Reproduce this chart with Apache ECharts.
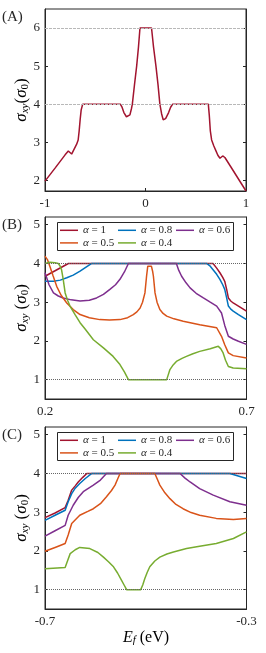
<!DOCTYPE html>
<html><head><meta charset="utf-8">
<script src="https://cdn.jsdelivr.net/npm/echarts@6/dist/echarts.min.js"></script>
<style>html,body{margin:0;padding:0;background:#fff}#c{width:266px;height:653px}</style>
</head><body><div id="c"></div>
<script>
// ---------- DATA ----------
// Panel A
const aX = [-1.0,-0.9,-0.8,-0.768,-0.75,-0.735,-0.71,-0.685,-0.67,-0.66,-0.65,-0.64,-0.625,-0.25,-0.235,-0.215,-0.19,-0.171,-0.155,-0.14,-0.131,-0.11,-0.088,-0.07,-0.055,0.06,0.08,0.104,0.125,0.143,0.16,0.176,0.2,0.23,0.25,0.27,0.625,0.635,0.645,0.658,0.68,0.7,0.72,0.741,0.755,0.768,0.79,0.85,0.9,0.95,1.0];
const aY = [1.98,2.32,2.67,2.77,2.74,2.69,2.82,2.95,3.06,3.3,3.6,3.85,4.0,4.0,3.93,3.78,3.67,3.65,3.72,3.88,4.0,4.5,5.0,5.5,6.0,6.0,5.5,5.0,4.5,4.0,3.75,3.59,3.62,3.78,3.92,4.0,4.0,3.7,3.3,3.06,2.9,2.78,2.66,2.58,2.62,2.64,2.6,2.35,2.14,1.93,1.72];
const aTicks = [2,3,4,5,6];
const aXTicks = [-1,0,1];

const legendNames = ['α = 1','α = 0.8','α = 0.6','α = 0.5','α = 0.4'];

// Panel B
const bX1 = [0.2,0.258,0.617,0.626,0.634,0.641,0.646,0.651,0.655,0.661,0.667,0.68,0.7];
const bY1 = [3.67,4.0,4.0,3.88,3.76,3.64,3.54,3.32,3.11,3.03,2.98,2.9,2.77];
const bX08 = [0.2,0.221,0.238,0.254,0.27,0.287,0.3,0.316,0.601,0.61,0.617,0.626,0.634,0.641,0.646,0.651,0.655,0.661,0.667,0.68,0.7];
const bY08 = [3.54,3.54,3.57,3.63,3.7,3.8,3.89,4.0,4.0,3.93,3.84,3.72,3.59,3.45,3.33,3.1,2.9,2.82,2.77,2.68,2.55];
const bX06 = [0.2,0.21,0.221,0.233,0.245,0.265,0.287,0.31,0.328,0.345,0.361,0.375,0.386,0.397,0.407,0.526,0.532,0.539,0.55,0.56,0.575,0.593,0.61,0.626,0.638,0.646,0.655,0.667,0.68,0.7];
const bY06 = [3.76,3.45,3.24,3.16,3.11,3.06,3.03,3.05,3.11,3.2,3.33,3.45,3.59,3.78,4.0,4.0,3.82,3.67,3.5,3.37,3.23,3.11,3.0,2.9,2.72,2.4,2.12,2.05,1.99,1.91];
const bX05 = [0.2,0.206,0.212,0.22,0.229,0.24,0.254,0.27,0.287,0.31,0.336,0.36,0.386,0.405,0.419,0.428,0.436,0.442,0.448,0.452,0.455,0.464,0.467,0.469,0.473,0.478,0.485,0.493,0.502,0.52,0.543,0.584,0.626,0.638,0.646,0.655,0.667,0.7];
const bY05 = [4.19,4.1,3.93,3.68,3.41,3.18,2.98,2.81,2.68,2.6,2.55,2.54,2.55,2.6,2.68,2.75,2.85,3.0,3.24,3.67,3.93,3.93,3.8,3.67,3.24,3.0,2.81,2.71,2.64,2.57,2.51,2.42,2.34,2.12,1.9,1.69,1.62,1.56];
const bX04 = [0.2,0.212,0.225,0.233,0.237,0.241,0.245,0.25,0.256,0.262,0.275,0.287,0.3,0.32,0.345,0.369,0.386,0.397,0.407,0.502,0.506,0.51,0.518,0.526,0.54,0.551,0.567,0.584,0.61,0.63,0.636,0.642,0.648,0.655,0.667,0.7];
const bY04 = [4.0,4.03,4.02,4.0,3.94,3.84,3.6,3.24,3.05,2.9,2.67,2.47,2.3,2.03,1.82,1.6,1.39,1.2,1.0,1.0,1.13,1.26,1.38,1.47,1.55,1.6,1.67,1.73,1.8,1.86,1.8,1.69,1.5,1.34,1.3,1.28];
const bXTicks = [0.2,0.7];

// Panel C
const cX1 = [-0.7,-0.68,-0.66,-0.654,-0.647,-0.64,-0.634,-0.625,-0.617,-0.3];
const cY1 = [2.86,2.98,3.12,3.31,3.57,3.68,3.78,3.9,4.0,4.0];
const cX08 = [-0.7,-0.68,-0.66,-0.654,-0.647,-0.64,-0.631,-0.62,-0.607,-0.333,-0.3];
const cY08 = [2.79,2.92,3.05,3.27,3.48,3.62,3.74,3.87,4.0,4.0,3.87];
const cX06 = [-0.7,-0.68,-0.66,-0.654,-0.644,-0.634,-0.624,-0.604,-0.59,-0.578,-0.432,-0.422,-0.412,-0.393,-0.366,-0.333,-0.3];
const cY06 = [2.38,2.52,2.66,2.92,3.18,3.38,3.53,3.70,3.83,4.0,4.0,3.88,3.78,3.61,3.44,3.27,3.18];
const cX05 = [-0.7,-0.68,-0.66,-0.654,-0.647,-0.631,-0.615,-0.604,-0.59,-0.578,-0.568,-0.561,-0.556,-0.551,-0.482,-0.477,-0.472,-0.462,-0.452,-0.44,-0.426,-0.41,-0.393,-0.36,-0.326,-0.3];
const cY05 = [1.99,2.09,2.19,2.41,2.71,2.92,3.02,3.09,3.22,3.40,3.56,3.70,3.85,4.0,4.0,3.85,3.70,3.50,3.35,3.2,3.09,2.99,2.92,2.84,2.81,2.84];
const cX04 = [-0.7,-0.66,-0.655,-0.65,-0.64,-0.631,-0.611,-0.595,-0.584,-0.574,-0.564,-0.556,-0.548,-0.543,-0.538,-0.51,-0.506,-0.502,-0.497,-0.492,-0.482,-0.472,-0.458,-0.445,-0.419,-0.393,-0.36,-0.326,-0.3];
const cY04 = [1.54,1.57,1.75,1.93,2.03,2.09,2.06,1.96,1.84,1.72,1.59,1.43,1.24,1.12,1.0,1.0,1.12,1.28,1.45,1.59,1.74,1.84,1.92,1.97,2.06,2.12,2.19,2.32,2.49];
const cXTicks = [-0.7,-0.3];
const bcTicks = [1,2,3,4,5];

// ---------- STYLE ----------
const FONT = 'Liberation Serif';
const INK = '#262626';
const COLORS = ['#A2142F','#0072BD','#7E2F8E','#D95319','#77AC30'];
const zip = (xs, ys) => xs.map((x, i) => [x, ys[i]]);

const grids = [
  {left: 45, top: 9, width: 201, height: 182},
  {left: 45, top: 217, width: 201.5, height: 182},
  {left: 45, top: 427, width: 201.5, height: 182}
];
const xRanges = [[-1,1,aXTicks],[0.2,0.7,bXTicks],[-0.7,-0.3,cXTicks]];
const yRanges = [[1.72,6.5,aTicks],[0.5,5.2,bcTicks],[0.5,5.2,bcTicks]];

const xAxes = [], yAxes = [];
xRanges.forEach((r, i) => {
  xAxes.push({
    type: 'value', gridIndex: i, min: r[0], max: r[1],
    axisLine: {show: true, onZero: false, lineStyle: {color: INK, width: 1}},
    axisTick: {show: true, inside: true, length: 3, customValues: r[2], lineStyle: {color: INK}},
    axisLabel: {show: true, customValues: r[2], margin: 6, fontFamily: FONT, fontSize: 13, color: INK,
      formatter: v => (Math.round(v*10)/10).toString()},
    splitLine: {show: false}
  });
});
yRanges.forEach((r, i) => {
  yAxes.push({
    type: 'value', gridIndex: i, min: r[0], max: r[1], position: 'left',
    axisLine: {show: true, onZero: false, lineStyle: {color: INK, width: 1}},
    axisTick: {show: true, inside: true, length: 3, customValues: r[2], lineStyle: {color: INK}},
    axisLabel: {show: true, customValues: r[2], margin: 5, fontFamily: FONT, fontSize: 13, color: INK},
    splitLine: {show: false}
  });
  yAxes.push({
    type: 'value', gridIndex: i, min: r[0], max: r[1], position: 'right',
    axisLine: {show: true, onZero: false, lineStyle: {color: INK, width: 1}},
    axisTick: {show: true, inside: true, length: 3, customValues: r[2], lineStyle: {color: INK}},
    axisLabel: {show: false},
    splitLine: {show: false}
  });
});

function line(name, xs, ys, gi, color, mark) {
  const s = {
    type: 'line', name: name, xAxisIndex: gi, yAxisIndex: gi*2,
    data: zip(xs, ys), symbol: 'none', showSymbol: false, smooth: false,
    lineStyle: {color: color, width: 1.5}, itemStyle: {color: color},
    animation: false, z: 2
  };
  if (mark) s.markLine = mark;
  return s;
}
const markA = {silent: true, symbol: 'none', label: {show: false},
  lineStyle: {color: '#b8b8b8', type: [3,1], width: 1}, data: [{yAxis: 4},{yAxis: 6}], animation: false};
const markBC = () => ({silent: true, symbol: 'none', label: {show: false},
  lineStyle: {color: '#666', type: [1,1], width: 1}, data: [{yAxis: 4},{yAxis: 1}], animation: false});

const series = [
  line('A', aX, aY, 0, '#A2142F', markA),
  line(legendNames[0], bX1, bY1, 1, COLORS[0], markBC()),
  line(legendNames[1], bX08, bY08, 1, COLORS[1]),
  line(legendNames[2], bX06, bY06, 1, COLORS[2]),
  line(legendNames[3], bX05, bY05, 1, COLORS[3]),
  line(legendNames[4], bX04, bY04, 1, COLORS[4]),
  line(legendNames[0], cX1, cY1, 2, COLORS[0], markBC()),
  line(legendNames[1], cX08, cY08, 2, COLORS[1]),
  line(legendNames[2], cX06, cY06, 2, COLORS[2]),
  line(legendNames[3], cX05, cY05, 2, COLORS[3]),
  line(legendNames[4], cX04, cY04, 2, COLORS[4])
];

function legend(top) {
  return {
    data: legendNames, left: 60, top: top, width: 176, padding: 0,
    itemGap: 0, itemWidth: 18, itemHeight: 10, selectedMode: false,
    icon: 'path://M0,0 L18,0 L18,1.5 L0,1.5 Z',
    formatter: n => '{i|α}' + n.slice(1),
    textStyle: {fontFamily: FONT, fontSize: 11, color: INK, width: 35, lineHeight: 12.6,
      rich: {i: {fontFamily: FONT, fontSize: 11, fontStyle: 'italic', color: INK}}},
    z: 5
  };
}

const yNameRich = {
  s: {fontFamily: FONT, fontSize: 17, color: INK},
  si: {fontFamily: FONT, fontSize: 17, fontStyle: 'italic', color: INK},
  sub: {fontFamily: FONT, fontSize: 11, fontStyle: 'italic', color: INK, verticalAlign: 'bottom', padding: [6,0,0,0]},
  sub0: {fontFamily: FONT, fontSize: 11, color: INK, verticalAlign: 'bottom', padding: [6,0,0,0]}
};
function yName(cy, spaced) {
  return {
    type: 'text', x: 22, y: cy, rotation: Math.PI/2, z: 10,
    style: {text: '{si|σ}{sub|xy}' + (spaced ? '{s| }' : '') + '{s|(}{si|σ}{sub0|0}{s|)}',
      rich: yNameRich, align: 'center', verticalAlign: 'middle'}
  };
}
function panelLabel(t, y) {
  return {type: 'text', x: 2, y: y, z: 10,
    style: {text: t, fontFamily: FONT, fontSize: 15, fill: INK, align: 'left', verticalAlign: 'middle'}};
}

const graphic = [
  {type: 'rect', shape: {x: 57.5, y: 222.5, width: 176, height: 28}, style: {fill: '#fff', stroke: INK, lineWidth: 1}, z: 3},
  {type: 'rect', shape: {x: 57.5, y: 432.5, width: 176, height: 28}, style: {fill: '#fff', stroke: INK, lineWidth: 1}, z: 3},
  yName(100, false), yName(308, true), yName(518, true),
  panelLabel('(A)', 17), panelLabel('(B)', 225), panelLabel('(C)', 435),
  {type: 'text', x: 146, y: 638, z: 10,
    style: {text: '{e|E}{f|f}{s| (eV)}', align: 'center', verticalAlign: 'middle',
      rich: {e: {fontFamily: FONT, fontSize: 16, fontStyle: 'italic', color: INK},
             f: {fontFamily: FONT, fontSize: 11, fontStyle: 'italic', color: INK, verticalAlign: 'bottom', padding: [5,0,0,0]},
             s: {fontFamily: FONT, fontSize: 16, color: INK}}}}
];

const chart = echarts.init(document.getElementById('c'), null, {renderer: 'canvas'});
chart.setOption({
  animation: false,
  backgroundColor: '#fff',
  grid: grids.map(g => Object.assign({show: true, borderColor: INK, borderWidth: 1, backgroundColor: 'transparent', containLabel: false}, g)),
  xAxis: xAxes,
  yAxis: yAxes,
  legend: [legend(224), legend(434)],
  series: series,
  graphic: graphic
});
</script></body></html>
